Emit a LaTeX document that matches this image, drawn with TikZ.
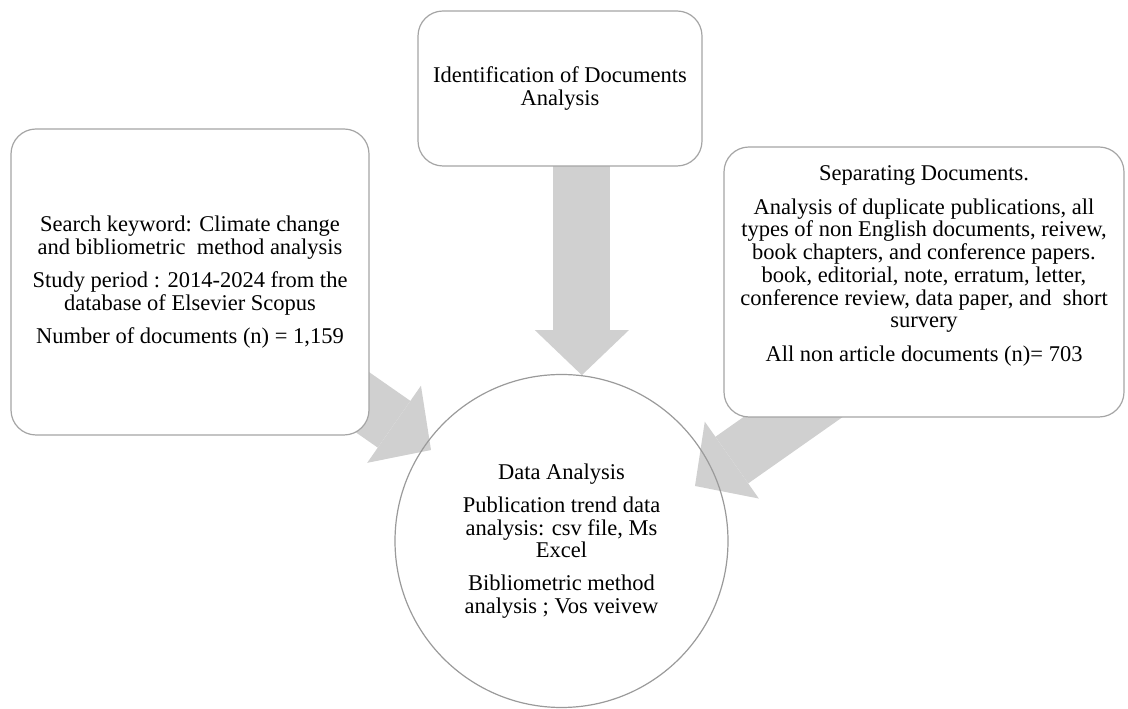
\documentclass[tikz,border=0pt]{standalone}
\usepackage{fontspec}
\setmainfont{Liberation Serif}
\usetikzlibrary{arrows.meta,backgrounds,calc}

\definecolor{boxline}{HTML}{A5A5A5}
\definecolor{arrowfill}{HTML}{D0D0D0}
\definecolor{ringline}{HTML}{9A9A9A}

\tikzset{
  stagebox/.style={draw=boxline, line width=1.2pt, fill=white, rounded corners=25pt, align=center, inner sep=0pt},
  flowarrow/.style={draw=arrowfill, line width=57pt, -{Triangle[width=94pt,length=45pt,line width=0pt]}},
}

\begin{document}
\begin{tikzpicture}[x=1pt, y=1pt, font=\fontsize{22.5pt}{22.7pt}\selectfont]
\useasboundingbox (0,0) rectangle (1128,709);

% the three source boxes
\node[stagebox, minimum width=358pt, minimum height=306pt] (search) at (190,427)
  {Search keyword: Climate change\\and bibliometric\ \ method analysis\\[10.5pt]Study period : 2014-2024 from the\\database of Elsevier Scopus\\[10.5pt]Number of documents (n) = 1,159};
\node[stagebox, minimum width=284pt, minimum height=155pt] (ident) at (560,620.5)
  {Identification of Documents\\Analysis};
\node[stagebox, minimum width=400pt, minimum height=270pt] (sep) at (924,427) {};
\node[align=center] (septext) at ([yshift=16pt]sep.center)
  {Separating Documents.\\[11pt]Analysis of duplicate publications, all\\types of non English documents, reivew,\\book chapters, and conference papers.\\book, editorial, note, erratum, letter,\\conference review, data paper, and\ \ short\\survery\\[11pt]All non article documents (n)= 703};

% target circle
\node[circle, draw=ringline, line width=1.2pt, minimum size=333pt, inner sep=0pt, align=center] (data) at (561.5,168)
  {Data Analysis\\[10.5pt]Publication trend data\\analysis: csv file, Ms\\Excel\\[10.5pt]Bibliometric method\\analysis ; Vos veivew};

\begin{scope}[on background layer]
  \draw[flowarrow] (ident.center -| data.83) -- (data.83);
  \draw[flowarrow, shorten >=-8pt] (search.center) -- (data);
  \draw[flowarrow] ([yshift=-43pt]sep.center) -- ($(data.center)+(22.4:144.4)$);
\end{scope}
\end{tikzpicture}
\end{document}
